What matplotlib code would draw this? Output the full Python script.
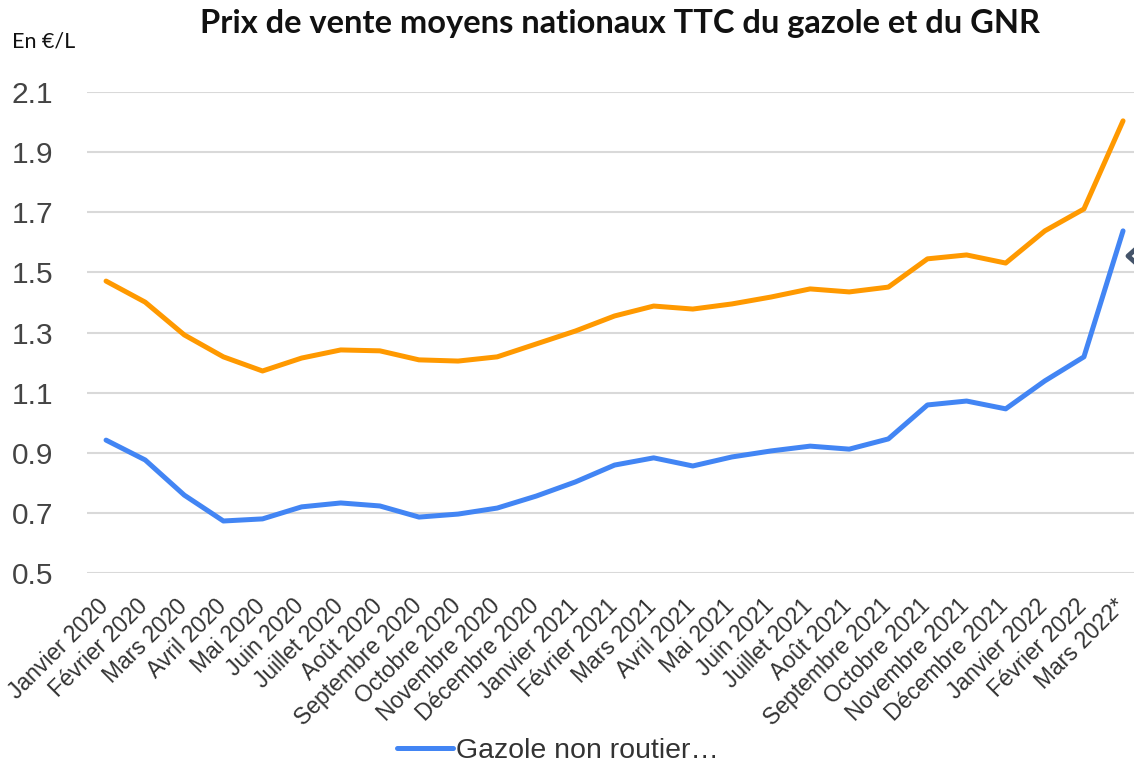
import matplotlib
matplotlib.use("Agg")
import matplotlib.pyplot as plt
from matplotlib.lines import Line2D
from matplotlib.transforms import ScaledTranslation

months = ["Janvier 2020", "Février 2020", "Mars 2020", "Avril 2020", "Mai 2020", "Juin 2020",
          "Juillet 2020", "Août 2020", "Septembre 2020", "Octobre 2020", "Novembre 2020",
          "Décembre 2020", "Janvier 2021", "Février 2021", "Mars 2021", "Avril 2021", "Mai 2021",
          "Juin 2021", "Juillet 2021", "Août 2021", "Septembre 2021", "Octobre 2021",
          "Novembre 2021", "Décembre 2021", "Janvier 2022", "Février 2022", "Mars 2022*"]

gazole = [1.471, 1.401, 1.292, 1.219, 1.172, 1.215, 1.242, 1.239, 1.209, 1.205, 1.219, 1.262,
          1.305, 1.355, 1.388, 1.378, 1.395, 1.418, 1.445, 1.435, 1.451, 1.545, 1.558, 1.531,
          1.638, 1.711, 2.004]
gnr = [0.942, 0.876, 0.759, 0.673, 0.680, 0.720, 0.733, 0.723, 0.686, 0.696, 0.716, 0.756,
       0.803, 0.859, 0.883, 0.856, 0.886, 0.906, 0.922, 0.912, 0.946, 1.059, 1.072, 1.046,
       1.139, 1.219, 1.638]
yticks = [0.5, 0.7, 0.9, 1.1, 1.3, 1.5, 1.7, 1.9, 2.1]

W, H = 1134, 767
fig = plt.figure(figsize=(W / 100, H / 100), dpi=100)
left = 86.5 / W
right_px = 1142.6
bottom = (H - 573) / H
top = (H - 92) / H
ax = fig.add_axes([left, bottom, (right_px - 86.5) / W, top - bottom])

x = list(range(len(months)))
ax.plot(x, gazole, color="#FF9900", lw=3.6, solid_capstyle="round", label="_nolegend_", zorder=3)
ax.plot(x, gnr, color="#4285F4", lw=3.6, solid_capstyle="round", label="Gazole non routier…", zorder=3)

ax.set_xlim(-0.5, len(months) - 0.5)
ax.set_ylim(0.5, 2.1)
ax.set_yticks(yticks)
ax.set_yticklabels([f"{v:.1f}" for v in yticks], fontsize=21.5, color="#444444",
                   family="Liberation Sans")
ax.set_xticks(x)
ax.set_xticklabels(months, rotation=45, ha="right", rotation_mode="anchor",
                   fontsize=16.5, color="#333333", family="Liberation Sans")
ax.tick_params(axis="both", length=0)
ax.tick_params(axis="y", pad=24)
ax.tick_params(axis="x", pad=14)
shift = ScaledTranslation(-9 / 100, -2 / 100, fig.dpi_scale_trans)
for lbl in ax.get_xticklabels():
    lbl.set_transform(lbl.get_transform() + shift)
for s in ax.spines.values():
    s.set_visible(False)
ax.grid(axis="y", color="#D9D9D9", lw=1.5, zorder=0)
ax.set_axisbelow(True)

fig.text(620 / W, 1 - 23 / H, "Prix de vente moyens nationaux TTC du gazole et du GNR",
         ha="center", va="center", fontsize=23.5, fontweight="bold", family="Lato", color="#111111")
fig.text(12 / W, 1 - 42 / H, "En €/L", ha="left", va="center", fontsize=15.5,
         family="Lato", color="#111111")

fig.legend(loc="center", bbox_to_anchor=(558 / W, 1 - 751 / H), frameon=False,
           prop={"family": "Liberation Sans", "size": 20.5}, handlelength=1.95,
           handletextpad=0.1, labelcolor="#333333")

fig.add_artist(Line2D([1137 / W, 1128 / W, 1137 / W],
                      [1 - 248 / H, 1 - 256 / H, 1 - 264 / H],
                      transform=fig.transFigure, color="#44546A", lw=3.5))

fig.savefig("out.png", dpi=100)
